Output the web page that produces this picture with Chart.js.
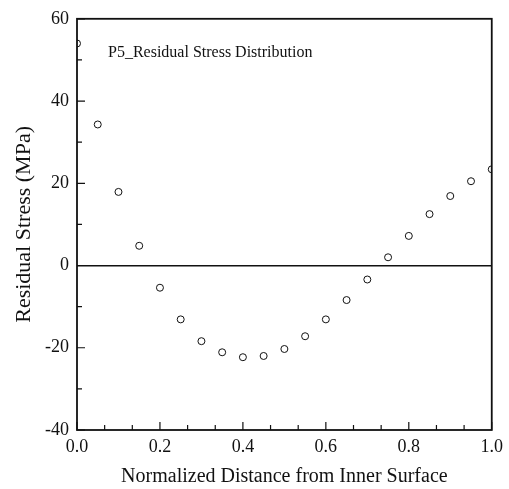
<!DOCTYPE html>
<html>
<head>
<meta charset="utf-8">
<script src="https://cdn.jsdelivr.net/npm/chart.js@4"></script>
<style>
  html, body { margin:0; padding:0; background:#fff; }
  #wrap { width:509px; height:489px; }
</style>
</head>
<body>
<div id="wrap"><canvas id="c" width="509" height="489"></canvas></div>
<script>
// data
const distance = [0.00, 0.05, 0.10, 0.15, 0.20, 0.25, 0.30, 0.35, 0.40, 0.45, 0.50,
                  0.55, 0.60, 0.65, 0.70, 0.75, 0.80, 0.85, 0.90, 0.95, 1.00];
const stress = [54.0, 34.3, 17.9, 4.8, -5.4, -13.1, -18.4, -21.1, -22.3, -22.0, -20.3,
                -17.2, -13.1, -8.4, -3.4, 2.0, 7.2, 12.5, 16.9, 20.5, 23.4];
const xTickValues = [0, 1/15, 2/15, 0.2, 4/15, 5/15, 0.4, 7/15, 8/15, 0.6, 10/15, 11/15, 0.8, 13/15, 14/15, 1.0];
const xLabels = ['0.0', '0.2', '0.4', '0.6', '0.8', '1.0'];
const yLabels = [60, 40, 20, 0, -20, -40];

const serif = '"Liberation Serif", "DejaVu Serif", serif';
const ink = '#111';

// frame, inward ticks and the label inside the plot
const framePlugin = {
  id: 'frame',
  afterDatasetsDraw(chart) {
    const {ctx, chartArea: a, scales: {x, y}} = chart;
    ctx.save();
    ctx.strokeStyle = ink;
    ctx.lineWidth = 1.8;
    ctx.strokeRect(a.left, a.top, a.right - a.left, a.bottom - a.top);
    ctx.lineWidth = 1.2;
    ctx.beginPath();
    xTickValues.forEach((v, i) => {
      const px = x.getPixelForValue(v);
      const len = i % 3 === 0 ? 8 : 5;
      ctx.moveTo(px, a.bottom); ctx.lineTo(px, a.bottom - len);
    });
    y.ticks.forEach(t => {
      const py = y.getPixelForValue(t.value);
      const len = t.value % 20 === 0 ? 8 : 5;
      ctx.moveTo(a.left, py); ctx.lineTo(a.left + len, py);
    });
    ctx.stroke();
    ctx.fillStyle = ink;
    ctx.font = '16px ' + serif;
    ctx.textBaseline = 'alphabetic';
    ctx.fillText('P5_Residual Stress Distribution', a.left + 31, a.top + 38);
    ctx.restore();
  }
};

new Chart(document.getElementById('c'), {
  type: 'scatter',
  data: {
    datasets: [{
      data: distance.map((d, i) => ({x: d, y: stress[i]})),
      pointStyle: 'circle',
      pointRadius: 3.5,
      pointHoverRadius: 3.5,
      pointBorderWidth: 1,
      pointBorderColor: ink,
      pointBackgroundColor: '#fff',
      clip: 0
    }]
  },
  options: {
    responsive: false,
    animation: false,
    layout: { padding: { left: 0, right: 14, top: 17, bottom: 0 } },
    plugins: { legend: { display: false }, tooltip: { enabled: false } },
    scales: {
      x: {
        type: 'linear', min: 0, max: 1,
        afterBuildTicks: s => { s.ticks = xTickValues.map(v => ({value: v})); },
        afterFit: s => { s.height = 59; },
        grid: { display: false, drawTicks: false },
        border: { display: false },
        ticks: {
          autoSkip: false, maxRotation: 0, padding: 6, color: ink,
          font: { family: serif, size: 18 },
          callback: (v, i) => i % 3 === 0 ? xLabels[i / 3] : ''
        },
        title: {
          display: true, text: 'Normalized Distance from Inner Surface',
          color: ink, font: { family: serif, size: 20 }, padding: { top: 0, bottom: 0 }
        }
      },
      y: {
        min: -40, max: 60,
        ticks: {
          stepSize: 10, padding: 8, color: ink,
          font: { family: serif, size: 18 },
          callback: v => yLabels.includes(v) ? String(v) : ''
        },
        afterFit: s => { s.width = 77; },
        grid: {
          drawTicks: false,
          color: c => c.tick && c.tick.value === 0 ? ink : 'rgba(0,0,0,0)',
          lineWidth: 1.5
        },
        border: { display: false },
        title: {
          display: true, text: 'Residual Stress (MPa)',
          color: ink, font: { family: serif, size: 22 }, padding: { top: 11, bottom: 0 }
        }
      }
    }
  },
  plugins: [framePlugin]
});
</script>
</body>
</html>
